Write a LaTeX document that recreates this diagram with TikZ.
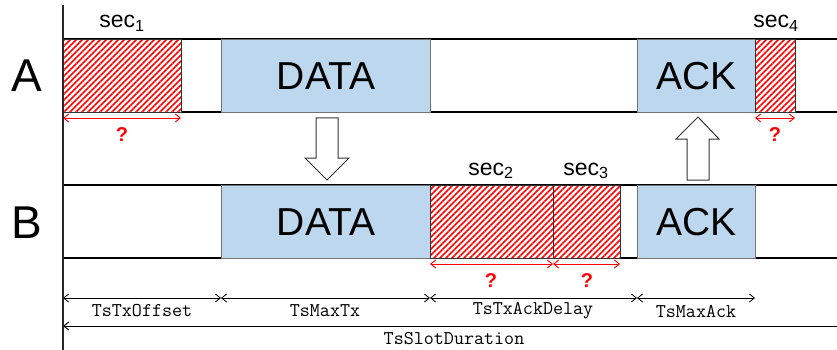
\documentclass[tikz,border=0pt]{standalone}
\usepackage{fontspec}
\setmainfont{Liberation Sans}
\usetikzlibrary{arrows.meta,patterns.meta}
\definecolor{boxblue}{HTML}{BDD7EE}
\definecolor{hatchred}{HTML}{FF0000}
\tikzset{
  slotbox/.style={draw=black!55, line width=1pt, fill=boxblue, inner sep=0pt, anchor=north west},
  hatchbox/.style={draw=black!80, line width=1pt, inner sep=0pt, anchor=north west,
     preaction={fill=white},
     pattern={Lines[angle=45,distance=4.2426pt,line width=1.7pt]}, pattern color=hatchred},
  rowline/.style={draw=black, line width=1.2pt},
  bigtxt/.style={font=\fontsize{39}{39}\selectfont},
  rowlbl/.style={font=\fontsize{46}{46}\selectfont},
  seclbl/.style={font=\fontsize{23}{23}\selectfont, anchor=base},
  qmark/.style={text=hatchred, font=\fontsize{20}{20}\selectfont\bfseries},
  redarr/.style={draw=hatchred, line width=0.9pt, {Straight Barb[length=5pt,width=8pt]}-{Straight Barb[length=5pt,width=8pt]}},
  dimarr/.style={draw=black, line width=0.8pt, {Straight Barb[length=5pt,width=8pt]}-{Straight Barb[length=5pt,width=8pt]}},
  dimlbl/.style={font=\fontsize{19.5}{19.5}\ttfamily},
  blockarr/.style={draw=black!80, line width=1pt, fill=white},
}
\begin{document}
\begin{tikzpicture}[x=1pt,y=-1pt]
\useasboundingbox (0,0) rectangle (837,350);

% row lines
\draw[rowline] (63,39) -- (837,39);
\draw[rowline] (63,112) -- (837,112);
\draw[rowline] (63,185) -- (837,185);
\draw[rowline] (63,258) -- (837,258);

% row A
\node[hatchbox, minimum width=118pt, minimum height=73pt] (s1) at (63,39) {};
\node[slotbox, minimum width=209pt, minimum height=73pt] (dataA) at (221,39) {};
\node[bigtxt] at (dataA.center) {DATA};
\node[slotbox, minimum width=118pt, minimum height=73pt] (ackA) at (637,39) {};
\node[bigtxt] at (ackA.center) {ACK};
\node[hatchbox, minimum width=40pt, minimum height=73pt] (s4) at (755,39) {};

% row B
\node[slotbox, minimum width=209pt, minimum height=73pt] (dataB) at (221,185) {};
\node[bigtxt] at (dataB.center) {DATA};
\node[hatchbox, minimum width=123pt, minimum height=73pt] (s2) at (430,185) {};
\node[hatchbox, minimum width=67pt, minimum height=73pt] (s3) at (553,185) {};
\node[slotbox, minimum width=118pt, minimum height=73pt] (ackB) at (637,185) {};
\node[bigtxt] at (ackB.center) {ACK};

% row labels
\node[rowlbl] (lA) at (27,76) {A};
\node[rowlbl] (lB) at (27,223) {B};

% sec labels
\node[seclbl] (t1) at (122,28) {sec\textsubscript{1}};
\node[seclbl] (t2) at (491,175) {sec\textsubscript{2}};
\node[seclbl] (t3) at (586,175) {sec\textsubscript{3}};
\node[seclbl] (t4) at (776,28) {sec\textsubscript{4}};

% red arrows
\coordinate (r1a) at (63,118); \coordinate (r1b) at (181,118);
\coordinate (r4a) at (755,118); \coordinate (r4b) at (795,118);
\coordinate (r2a) at (430,264); \coordinate (r2b) at (553,264);
\coordinate (r3a) at (553,264); \coordinate (r3b) at (620,264);
\draw[redarr] (r1a) -- (r1b);
\draw[redarr] (r4a) -- (r4b);
\draw[redarr] (r2a) -- (r2b);
\draw[redarr] (r3a) -- (r3b);
\node[qmark] (q1) at (122,134.5) {?};
\node[qmark] (q4) at (775,134.5) {?};
\node[qmark] (q2) at (491,281) {?};
\node[qmark] (q3) at (587,281) {?};

% block arrows
\draw[blockarr] (316,118) -- (338,118) -- (338,158) -- (349,158) -- (327,180) -- (305,158) -- (316,158) -- cycle;
\draw[blockarr] (687,180) -- (709,180) -- (709,139) -- (719,139) -- (698,117) -- (676,139) -- (687,139) -- cycle;

% dimension lines
\coordinate (d0) at (63,298);
\coordinate (d1) at (221,298);
\coordinate (d2) at (430,298);
\coordinate (d3) at (637,298);
\coordinate (d4) at (755,298);
\draw[dimarr] (d0) -- (d1);
\draw[dimarr] (d1) -- (d2);
\draw[dimarr] (d2) -- (d3);
\draw[dimarr] (d3) -- (d4);
\node[dimlbl] (n1) at (142,311) {TsTxOffset};
\node[dimlbl] (n2) at (325,311) {TsMaxTx};
\node[dimlbl] (n3) at (533,311) {TsTxAckDelay};
\node[dimlbl] (n4) at (696,311) {TsMaxAck};
\coordinate (e0) at (63,326);
\coordinate (e1) at (837,326);
\draw[draw=black, line width=1pt, {Straight Barb[length=5pt,width=8pt]}-] (e0) -- (e1);
\node[dimlbl] (n5) at (454,339) {TsSlotDuration};

% vertical axis
\draw[line width=2.8pt, black!85] (63,5) -- (63,350);
\end{tikzpicture}
\end{document}
